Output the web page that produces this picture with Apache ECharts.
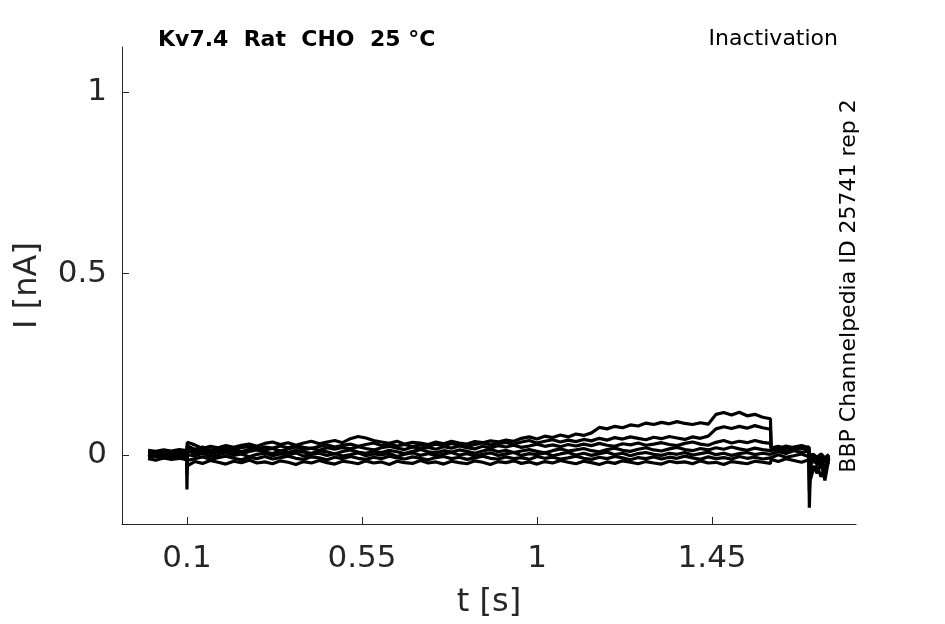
<!DOCTYPE html>
<html><head><meta charset="utf-8">
<script src="https://cdn.jsdelivr.net/npm/echarts@6/dist/echarts.min.js"></script>
<style>html,body{margin:0;padding:0;background:#fff}#c{width:945px;height:624px}</style>
</head><body><div id="c"></div>
<script>
const xTicks = [0.1, 0.55, 1, 1.45];
const yTicks = [0, 0.5, 1];

const t = [0,0.02,0.04,0.06,0.08,0.099, 0.1,0.101,
0.12,0.14,0.16,0.18,0.20,0.22,0.24,0.26,0.28,0.30,
0.32,0.34,0.36,0.38,0.40,0.42,0.44,0.46,0.48,0.50,
0.52,0.54,0.56,0.58,0.60,0.62,0.64,0.66,0.68,0.70,
0.72,0.74,0.76,0.78,0.80,0.82,0.84,0.86,0.88,0.90,
0.92,0.94,0.96,0.98,1.00,1.02,1.04,1.06,1.08,1.10,
1.12,1.14,1.16,1.18,1.20,1.22,1.24,1.26,1.28,1.30,
1.32,1.34,1.36,1.38,1.40,1.42,1.44,1.46,1.48,1.50,
1.52,1.54,1.56,1.58,1.60,
1.602,1.62,1.64,1.66,1.68,1.699, 1.7,1.702,
1.71,1.72,1.73,1.74,1.75];

const trace1 = [-0.010,-0.014,-0.008,-0.012,-0.009,-0.013, -0.095,-0.03,
-0.018,-0.023,-0.015,-0.020,-0.025,-0.017,-0.021,-0.014,-0.022,-0.019,
-0.024,-0.016,-0.020,-0.026,-0.018,-0.022,-0.015,-0.021,-0.025,-0.017,
-0.020,-0.024,-0.016,-0.022,-0.019,-0.026,-0.017,-0.021,-0.023,-0.015,
-0.022,-0.019,-0.025,-0.017,-0.021,-0.024,-0.016,-0.020,-0.026,-0.018,
-0.021,-0.016,-0.023,-0.019,-0.025,-0.018,-0.022,-0.015,-0.020,-0.024,
-0.017,-0.021,-0.026,-0.019,-0.023,-0.016,-0.020,-0.024,-0.018,-0.022,
-0.025,-0.017,-0.021,-0.019,-0.024,-0.016,-0.022,-0.020,-0.026,-0.018,
-0.021,-0.024,-0.017,-0.020,-0.023,
-0.012,-0.018,-0.010,-0.015,-0.020,-0.013, -0.145,-0.07,
-0.04,-0.03,-0.06,-0.035,-0.02];

const trace2 = [-0.006,-0.002,-0.008,-0.004,-0.007,-0.003, -0.05,-0.015,
-0.010,-0.005,-0.012,-0.007,-0.003,-0.009,-0.013,-0.006,-0.010,-0.004,
-0.011,-0.007,-0.003,-0.009,-0.012,-0.005,-0.008,-0.013,-0.006,-0.010,
-0.004,-0.009,-0.012,-0.006,-0.010,-0.003,-0.008,-0.011,-0.005,-0.009,
-0.013,-0.007,-0.004,-0.010,-0.006,-0.012,-0.008,-0.003,-0.009,-0.011,
-0.005,-0.010,-0.007,-0.012,-0.004,-0.009,-0.006,-0.011,-0.008,-0.003,
-0.009,-0.012,-0.006,-0.010,-0.004,-0.008,-0.013,-0.007,-0.010,-0.005,
-0.011,-0.006,-0.009,-0.003,-0.008,-0.012,-0.005,-0.010,-0.007,-0.011,
-0.004,-0.009,-0.006,-0.011,-0.008,
-0.004,0.001,-0.006,-0.002,0.003,-0.005, -0.10,-0.05,
-0.03,-0.05,-0.02,-0.07,-0.01];

const trace3 = [0.001,-0.004,0.000,-0.002,0.002,-0.003, -0.03,0.0,
-0.002,0.004,-0.004,0.001,0.006,-0.001,0.003,-0.005,0.002,0.005,
-0.002,0.003,0.000,0.006,-0.003,0.002,0.005,-0.001,0.004,-0.003,
0.001,0.006,-0.002,0.003,0.000,0.005,-0.004,0.002,0.006,-0.001,
0.004,-0.002,0.003,0.007,0.000,0.004,-0.003,0.002,0.006,-0.001,
0.003,0.007,-0.001,0.004,0.001,0.006,-0.002,0.003,0.007,0.000,
0.005,-0.001,0.004,0.008,0.001,0.005,-0.002,0.004,0.007,0.002,
-0.001,0.005,0.002,0.007,0.000,0.004,0.008,0.001,0.005,-0.001,
0.004,0.007,0.001,0.005,0.002,
0.006,0.010,0.004,0.012,0.007,0.011, -0.07,-0.03,
-0.015,-0.025,-0.01,-0.04,-0.005];

const trace4 = [0.003,0.000,0.005,0.001,0.004,0.002, -0.01,0.01,
0.006,0.011,0.004,0.009,0.013,0.007,0.003,0.010,0.014,0.008,
0.004,0.011,0.007,0.013,0.008,0.005,0.012,0.009,0.003,0.010,
0.014,0.008,0.005,0.011,0.007,0.013,0.009,0.004,0.010,0.015,
0.009,0.006,0.012,0.008,0.014,0.010,0.005,0.011,0.016,0.009,
0.013,0.007,0.011,0.015,0.010,0.006,0.012,0.017,0.011,0.014,
0.018,0.012,0.009,0.015,0.019,0.013,0.010,0.016,0.020,0.014,
0.011,0.017,0.021,0.015,0.012,0.018,0.014,0.020,0.016,0.022,
0.017,0.013,0.019,0.015,0.012,
0.012,0.017,0.011,0.015,0.019,0.013, -0.05,-0.02,
-0.01,-0.02,-0.03,-0.015,0.0];

const trace5 = [0.006,0.009,0.004,0.008,0.005,0.009, 0.0,0.02,
0.012,0.018,0.010,0.015,0.020,0.013,0.009,0.016,0.021,0.014,
0.018,0.011,0.017,0.022,0.015,0.019,0.013,0.020,0.016,0.021,
0.017,0.023,0.018,0.014,0.020,0.024,0.019,0.015,0.022,0.018,
0.021,0.016,0.023,0.019,0.025,0.020,0.017,0.024,0.019,0.026,
0.022,0.027,0.021,0.025,0.030,0.024,0.028,0.023,0.029,0.025,
0.030,0.026,0.032,0.027,0.024,0.031,0.028,0.033,0.027,0.030,
0.034,0.029,0.026,0.032,0.036,0.030,0.027,0.035,0.040,0.033,
0.038,0.034,0.040,0.035,0.032,
0.016,0.021,0.014,0.019,0.023,0.017, -0.03,-0.01,
-0.005,-0.015,-0.008,-0.02,-0.003];

const trace6 = [0.010,0.007,0.012,0.009,0.011,0.008, 0.005,0.025,
0.016,0.022,0.014,0.019,0.023,0.015,0.020,0.024,0.017,0.022,
0.019,0.025,0.020,0.026,0.021,0.018,0.024,0.028,0.022,0.027,
0.030,0.024,0.029,0.033,0.026,0.031,0.025,0.029,0.023,0.028,
0.024,0.030,0.026,0.032,0.027,0.023,0.029,0.033,0.028,0.031,
0.035,0.030,0.036,0.040,0.033,0.038,0.042,0.036,0.041,0.037,
0.043,0.039,0.046,0.041,0.048,0.044,0.050,0.046,0.042,0.049,
0.045,0.051,0.047,0.043,0.050,0.046,0.052,0.072,0.078,0.073,
0.079,0.074,0.081,0.075,0.071,
0.019,0.024,0.018,0.022,0.026,0.020, -0.02,-0.005,
-0.002,-0.01,-0.004,-0.012,0.0];

const trace7 = [0.013,0.010,0.014,0.011,0.015,0.012, 0.01,0.035,
0.028,0.018,0.024,0.020,0.026,0.021,0.027,0.030,0.024,0.032,
0.036,0.029,0.034,0.027,0.033,0.038,0.031,0.036,0.040,0.034,
0.045,0.051,0.047,0.040,0.036,0.032,0.038,0.030,0.035,0.033,
0.029,0.036,0.031,0.038,0.033,0.030,0.037,0.034,0.039,0.036,
0.041,0.038,0.046,0.050,0.044,0.052,0.048,0.055,0.050,0.058,
0.054,0.061,0.076,0.072,0.079,0.075,0.083,0.080,0.088,0.084,
0.090,0.086,0.092,0.087,0.084,0.089,0.085,0.112,0.117,0.110,
0.118,0.108,0.112,0.104,0.100,
0.022,0.018,0.025,0.020,0.017,0.023, -0.01,0.0,
0.002,-0.006,0.003,-0.008,0.002];

const traces = [trace1, trace2, trace3, trace4, trace5, trace6, trace7];

const chart = echarts.init(document.getElementById('c'), null, {renderer: 'canvas'});
const axisCol = '#262626';
const font = 'DejaVu Sans';

const series = traces.map(v => ({
  type: 'line',
  data: t.map((x, i) => [x, v[i]]),
  showSymbol: false,
  symbol: 'none',
  lineStyle: {color: '#000', width: 3.2},
  silent: true,
  z: 2
}));

chart.setOption({
  animation: false,
  backgroundColor: '#fff',
  grid: {left: 122, top: 47, right: 89, bottom: 99, containLabel: false},
  xAxis: {
    type: 'value', min: -0.067, max: 1.82,
    name: 't [s]', nameLocation: 'middle', nameGap: 63,
    nameTextStyle: {fontFamily: font, fontSize: 32, color: axisCol},
    axisLine: {show: true, onZero: false, lineStyle: {color: axisCol, width: 1}},
    axisTick: {show: true, inside: true, length: 7, customValues: xTicks, lineStyle: {color: axisCol}},
    axisLabel: {customValues: xTicks, fontFamily: font, fontSize: 31, color: axisCol, margin: 19,
      formatter: v => String(v)},
    splitLine: {show: false}
  },
  yAxis: {
    type: 'value', min: -0.19, max: 1.124,
    name: 'I [nA]', nameLocation: 'middle', nameGap: 78, nameRotate: 90,
    nameTextStyle: {fontFamily: font, fontSize: 32, color: axisCol},
    axisLine: {show: true, onZero: false, lineStyle: {color: axisCol, width: 1}},
    axisTick: {show: true, inside: true, length: 7, customValues: yTicks, lineStyle: {color: axisCol}},
    axisLabel: {customValues: yTicks, fontFamily: font, fontSize: 31, color: axisCol, margin: 15,
      formatter: v => String(v)},
    splitLine: {show: false}
  },
  graphic: [
    {type: 'text', x: 158, y: 40, style: {text: 'Kv7.4  Rat  CHO  25 °C', font: 'bold 22px "DejaVu Sans"', fill: '#000', verticalAlign: 'middle'}},
    {type: 'text', x: 838, y: 39, style: {text: 'Inactivation', font: '22px "DejaVu Sans"', fill: '#000', align: 'right', verticalAlign: 'middle'}},
    {type: 'text', x: 849, y: 286, rotation: Math.PI/2,
      style: {text: 'BBP Channelpedia ID 25741 rep 2', font: '22px "DejaVu Sans"', fill: '#000', align: 'center', verticalAlign: 'middle'}}
  ],
  series: series
});
</script></body></html>
